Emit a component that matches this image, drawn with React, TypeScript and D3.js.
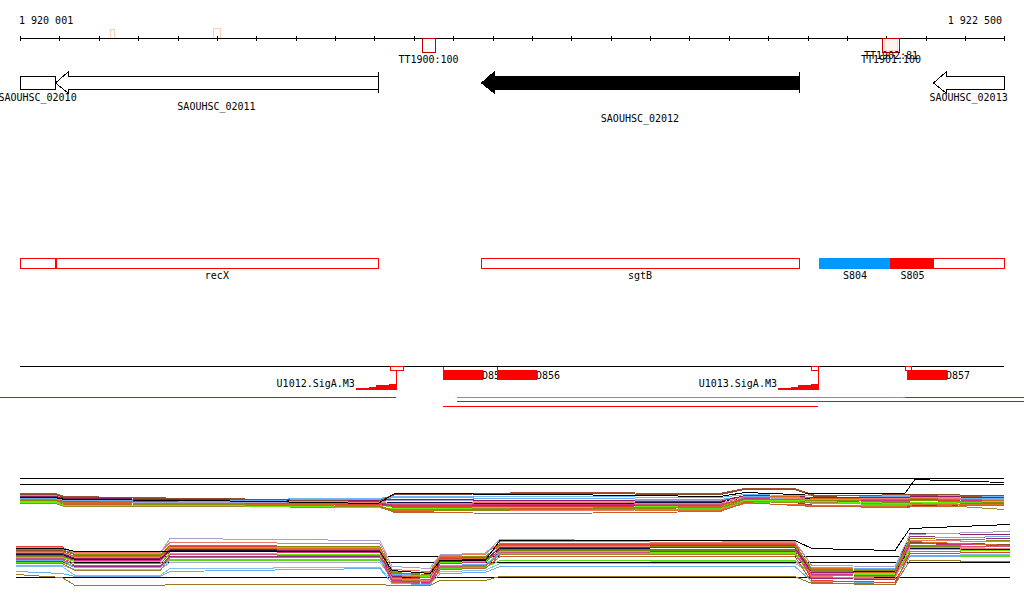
import React from "react";
import * as d3 from "d3";

// ---------- data ----------
const GENOME_START = 1920001;
const GENOME_END = 1922500;
const rulerLabels = ["1 920 001", "1 922 500"];

const genes = [
  { name: "SAOUHSC_02010", start: 1920001, end: 1920090, head: false, bar: false, fill: "#ffffff", row: 0 },
  { name: "SAOUHSC_02011", start: 1920090, end: 1920910, head: true, bar: true, fill: "#ffffff", row: 1 },
  { name: "SAOUHSC_02012", start: 1921172, end: 1921979, head: true, bar: true, fill: "#000000", row: 2 },
  { name: "SAOUHSC_02013", start: 1922320, end: 1922500, head: true, bar: false, fill: "#ffffff", row: 0 },
];

const terminators = [
  { name: "TT1900:100", start: 1921022, end: 1921055, inner: false, labelDy: 0 },
  { name: "TT1902:81", start: 1922192, end: 1922234, inner: true, labelDy: -4.5 },
  { name: "TT1901:100", start: 1922192, end: 1922234, inner: false, labelDy: 0 },
];
const faintMarks = [
  { start: 1920230, end: 1920242, top: 29 },
  { start: 1920492, end: 1920511, top: 28 },
];

const annotBoxes = [
  { name: "", start: 1920001, end: 1920090 },
  { name: "recX", start: 1920092, end: 1920910 },
  { name: "sgtB", start: 1921172, end: 1921979 },
];
const filledSegments = [
  { name: "S804", start: 1922030, end: 1922213, color: "#0099ff" },
  { name: "S805", start: 1922213, end: 1922322, color: "#ff0000" },
];
const s805Outline = { start: 1922213, end: 1922500 };

const promoters = [
  { name: "U1012.SigA.M3", boxStart: 1920941, boxEnd: 1920974, site: 1920956, motifStart: 1920854 },
  { name: "U1013.SigA.M3", boxStart: 1922010, boxEnd: 1922030, site: 1922028, motifStart: 1921926 },
];
const motifScores = [0.17, 0.33, 0.5, 0.67, 0.83, 1.0];

const dSites = [
  { name: "D855", start: 1921075, end: 1921177, tick: true, smallBox: false },
  { name: "D856", start: 1921212, end: 1921314, tick: true, smallBox: false },
  { name: "D857", start: 1922254, end: 1922355, tick: false, smallBox: true },
];
const d857Box = { start: 1922249, end: 1922264 };

const coverageLines = [
  { start: 1919950, end: 1920956, lane: 0, color: "#ff0000" },
  { start: 1921111, end: 1922249, lane: 0, color: "#22dd22" },
  { start: 1922249, end: 1922551, lane: 0, color: "#ff0000" },
  { start: 1921111, end: 1922551, lane: 1, color: "#ff0000" },
  { start: 1921075, end: 1922028, lane: 2, color: "#ff0000" },
];

// expression profiles, track 1
const track1Pos = [1920001, 1920090, 1920115, 1920458, 1920910, 1920953, 1921347, 1921779, 1921842, 1921969, 1922020, 1922248, 1922274, 1922500];
const track1Ref = [42, 36];
const track1Colors = ["#000000", "#8b4a2b", "#d2691e", "#8c8c00", "#66ee00", "#8b1a6b", "#66b0f0", "#f08070", "#cc3388", "#a8a0d0", "#101040", "#e04030", "#a08830", "#c8602a", "#d05080", "#55dd11", "#a0522d", "#e07030", "#7a8a10", "#9a2a7a", "#70b8f8", "#ee7766"];
const t1s01 = [23, 23, 21, 20, 17, 27, 26, 24, 28, 26, 27, 27, 41, 38];
const t1s02 = [26, 26, 23, 22, 19, 26, 27, 26, 31, 31, 24, 26, 26, 25];
const t1s03 = [21, 21, 18, 17, 15, 10, 12, 14, 23, 24, 22, 21, 22, 20];
const t1s04 = [20, 20, 17, 16, 14, 9, 11, 13, 21, 21, 20, 19, 20, 18];
const t1s05 = [18, 18, 15, 15, 13, 12, 13, 14, 20, 20, 19, 17, 18, 19];
const t1s06 = [24, 24, 22, 21, 20, 21, 20, 19, 25, 24, 23, 23, 24, 23];
const t1s07 = [22, 22, 20, 20, 21, 23, 22, 21, 24, 23, 23, 24, 23, 22];
const t1s08 = [25, 25, 22, 19, 18, 17, 18, 17, 24, 22, 21, 22, 23, 21];
const t1s09 = [23, 23, 20, 19, 18, 15, 16, 15, 22, 21, 20, 20, 21, 20];
const t1s10 = [19, 19, 17, 18, 19, 20, 19, 20, 23, 22, 21, 21, 22, 21];
const t1s11 = [24, 24, 21, 20, 19, 18, 17, 18, 23, 23, 22, 22, 22, 21];
const t1s12 = [21, 21, 19, 17, 16, 14, 14, 15, 21, 20, 19, 20, 20, 19];
const t1s13 = [17, 17, 14, 14, 13, 11, 12, 13, 19, 18, 18, 17, 17, 11];
const t1s14 = [20, 20, 16, 15, 14, 8, 7, 9, 18, 15, 14, 13, 14, 15];
const t1s15 = [22, 22, 19, 18, 17, 16, 17, 16, 22, 21, 20, 19, 20, 19];
const t1s16 = [20, 20, 18, 17, 15, 14, 14, 12, 18, 19, 17, 16, 17, 18];
const t1s17 = [27, 27, 24, 22, 20, 26, 28, 27, 32, 32, 25, 24, 25, 23];
const t1s18 = [19, 19, 16, 15, 13, 11, 11, 10, 17, 16, 15, 14, 16, 16];
const t1s19 = [22, 22, 20, 18, 16, 13, 13, 14, 20, 19, 18, 18, 18, 17];
const t1s20 = [21, 21, 18, 17, 16, 15, 15, 14, 20, 18, 15, 13, 15, 16];
const t1s21 = [23, 23, 21, 21, 22, 24, 24, 23, 26, 25, 25, 25, 25, 24];
const t1s22 = [18, 18, 15, 14, 13, 10, 10, 11, 17, 16, 15, 15, 16, 15];
const track1Series = [t1s01, t1s02, t1s03, t1s04, t1s05, t1s06, t1s07, t1s08, t1s09, t1s10, t1s11, t1s12, t1s13, t1s14, t1s15, t1s16, t1s17, t1s18, t1s19, t1s20, t1s21, t1s22];

// expression profiles, track 2
const track2Pos = [1919991, 1920108, 1920141, 1920357, 1920382, 1920915, 1920946, 1921042, 1921068, 1921182, 1921220, 1921969, 1922012, 1922223, 1922261, 1922515];
const track2Ref = [36, 30, 15];
const track2Colors = ["#000000", "#a8a0d0", "#8c8c00", "#d2691e", "#8b1a6b", "#cc3388", "#66ee00", "#f08070", "#e04030", "#66b0f0", "#101040", "#d05080", "#a08830", "#8b4a2b", "#66b0f0", "#9a7a20", "#7a8a10", "#c8602a", "#9a2a7a", "#55dd11", "#e07030", "#b0a8d8", "#80c0f0", "#ee7766"];
const t2s01 = [44, 44, 41, 41, 41, 41, 22, 19, 32, 32, 52, 52, 44, 42, 64, 68];
const t2s02 = [45, 45, 39, 39, 54, 52, 26, 24, 38, 39, 53, 51, 27, 26, 58, 61];
const t2s03 = [43, 43, 38, 38, 47, 46, 20, 18, 35, 36, 47, 46, 23, 22, 54, 52];
const t2s04 = [41, 41, 36, 36, 44, 43, 17, 15, 33, 34, 49, 49, 21, 20, 51, 47];
const t2s05 = [39, 39, 34, 34, 43, 42, 16, 15, 31, 32, 45, 45, 20, 20, 59, 58];
const t2s06 = [37, 37, 32, 32, 41, 40, 12, 10, 29, 30, 43, 43, 18, 17, 49, 47];
const t2s07 = [35, 35, 31, 31, 39, 38, 17, 16, 30, 31, 41, 40, 19, 18, 43, 42];
const t2s08 = [40, 40, 35, 35, 45, 45, 14, 12, 32, 32, 46, 45, 16, 14, 45, 44];
const t2s09 = [46, 46, 37, 37, 46, 45, 15, 13, 34, 35, 48, 48, 12, 10, 39, 40];
const t2s10 = [32, 32, 25, 25, 33, 33, 18, 17, 27, 28, 39, 39, 25, 24, 54, 56];
const t2s11 = [38, 38, 33, 33, 42, 42, 20, 18, 32, 33, 44, 43, 21, 21, 44, 43];
const t2s12 = [34, 34, 29, 29, 38, 37, 11, 9, 26, 27, 40, 40, 15, 14, 47, 46];
const t2s13 = [29, 29, 22, 22, 35, 35, 13, 11, 25, 26, 38, 38, 17, 16, 41, 40];
const t2s14 = [42, 42, 38, 38, 46, 46, 18, 16, 34, 35, 48, 47, 19, 18, 50, 48];
const t2s15 = [21, 19, 16, 16, 21, 24, 9, 8, 19, 20, 26, 26, 11, 10, 36, 37];
const t2s16 = [18, 15, 7, 7, 8, 8, 7, 7, 12, 12, 16, 16, 9, 8, 32, 31];
const t2s17 = [36, 36, 32, 32, 42, 41, 19, 17, 31, 32, 42, 42, 22, 21, 46, 46];
const t2s18 = [33, 33, 27, 27, 35, 35, 10, 8, 23, 24, 36, 36, 10, 8, 41, 40];
const t2s19 = [31, 31, 26, 26, 36, 36, 13, 12, 26, 27, 41, 41, 14, 13, 56, 54];
const t2s20 = [30, 30, 25, 25, 32, 32, 16, 15, 24, 25, 32, 32, 18, 17, 37, 36];
const t2s21 = [40, 40, 36, 36, 45, 44, 21, 20, 36, 36, 47, 47, 24, 23, 49, 48];
const t2s22 = [27, 27, 23, 23, 30, 30, 14, 13, 24, 25, 32, 31, 20, 19, 46, 44];
const t2s23 = [26, 26, 17, 17, 24, 25, 12, 11, 21, 22, 29, 29, 20, 19, 37, 38];
const t2s24 = [44, 44, 40, 40, 50, 49, 23, 21, 37, 38, 51, 50, 27, 26, 52, 51];
const track2Series = [t2s01, t2s02, t2s03, t2s04, t2s05, t2s06, t2s07, t2s08, t2s09, t2s10, t2s11, t2s12, t2s13, t2s14, t2s15, t2s16, t2s17, t2s18, t2s19, t2s20, t2s21, t2s22, t2s23, t2s24];

// ---------- chart ----------
const FONT = "'DejaVu Sans Mono', 'Liberation Mono', monospace";

export default function App() {
  const x = d3.scaleLinear().domain([GENOME_START, GENOME_END]).range([20, 1004]);
  const y1 = d3.scaleLinear().domain([0, 48]).range([520, 472]);
  const y2 = d3.scaleLinear().domain([0, 64]).range([592, 528]);
  const motifH = d3.scaleLinear().domain([0, 1]).range([0, 6]);

  const ticks = d3.range(GENOME_START, GENOME_END, 100).concat([GENOME_END]);

  const line1 = d3.line<number>().x((_, i) => x(track1Pos[i])).y((d) => y1(d) + 0.5);
  const line2 = d3.line<number>().x((_, i) => x(track2Pos[i])).y((d) => y2(d) + 0.5);

  const RULER_Y = 38.5;
  const GENE_TOP = 76.5, GENE_BOT = 89.5, HEAD_TOP = 72, HEAD_BOT = 93;
  const geneLabelY = [101, 110, 122];

  const arrowPath = (s: number, e: number, head: boolean) => {
    const x0 = Math.round(x(s)) + 0.5, x1 = Math.round(x(e)) + 0.5;
    if (!head) return `M${x0},${GENE_TOP}H${x1}V${GENE_BOT}H${x0}Z`;
    const hb = x0 + 12.5;
    const mid = (GENE_TOP + GENE_BOT) / 2;
    return `M${x0},${mid}L${hb},${HEAD_TOP}V${GENE_TOP}H${x1}V${GENE_BOT}H${hb}V${HEAD_BOT}Z`;
  };

  const ROW2_TOP = 258.5, ROW2_BOT = 268.5;
  const ROW3_Y = 366.5;

  const stairPath = (p: typeof promoters[number]) => {
    const xs = x(p.motifStart), xe = x(p.site);
    const w = (xe - xs) / motifScores.length;
    const base = 389.5;
    let d = `M${xs},${base}`;
    motifScores.forEach((sc, i) => {
      const h = motifH(sc);
      d += `V${base - h}H${xs + w * (i + 1)}`;
    });
    d += `V${base}Z`;
    return d;
  };

  return (
    <div style={{ position: "absolute", left: 0, top: 0 }}>
      <svg width={1024} height={611} style={{ display: "block", background: "#fff" }} fontFamily={FONT} fontSize={10}>
        {/* ruler */}
        <g shapeRendering="crispEdges">
          {faintMarks.map((m, i) => (
            <rect key={i} x={x(m.start)} y={m.top} width={x(m.end) - x(m.start)} height={RULER_Y - m.top} fill="none" stroke="#ffcdb8" />
          ))}
          <line x1={x(GENOME_START)} x2={x(GENOME_END)} y1={RULER_Y} y2={RULER_Y} stroke="#000" />
          {ticks.map((t) => (
            <line key={t} x1={Math.round(x(t)) + 0.5} x2={Math.round(x(t)) + 0.5} y1={35.5} y2={41} stroke="#000" />
          ))}
          {terminators.map((t, i) => (
            t.inner ? (
              <g key={i}>
                <rect x={x(t.start)} y={RULER_Y} width={x(t.end) - x(t.start)} height={14} fill="none" stroke="#c00000" />
                <rect x={x(t.start) + 1.5} y={RULER_Y} width={x(t.end) - x(t.start) - 3} height={11.5} fill="#fff4f0" stroke="#ffd8cc" />
              </g>
            ) : (
              <rect key={i} x={x(t.start)} y={RULER_Y} width={x(t.end) - x(t.start)} height={14} fill="none" stroke="#c00000" />
            )
          ))}
        </g>
        <text x={19} y={24}>{rulerLabels[0]}</text>
        <text x={1002} y={24} textAnchor="end">{rulerLabels[1]}</text>
        {terminators.map((t, i) => (
          <text key={i} x={(x(t.start) + x(t.end)) / 2} y={63 + t.labelDy} textAnchor="middle">{t.name}</text>
        ))}

        {/* genes */}
        <g shapeRendering="crispEdges">
          {genes.map((g) => (
            <g key={g.name}>
              <path d={arrowPath(g.start, g.end, g.head)} fill={g.fill} stroke="#000" />
              {g.bar && (
                <line x1={Math.round(x(g.end)) + 0.5} x2={Math.round(x(g.end)) + 0.5} y1={HEAD_TOP} y2={HEAD_BOT} stroke="#000" />
              )}
            </g>
          ))}
        </g>
        {genes.map((g) => (
          <text key={g.name} x={(x(g.start) + x(g.end)) / 2} y={geneLabelY[g.row]} textAnchor="middle">{g.name}</text>
        ))}

        {/* annotation row */}
        <g shapeRendering="crispEdges">
          {filledSegments.map((s) => (
            <rect key={s.name} x={x(s.start)} y={ROW2_TOP - 0.5} width={x(s.end) - x(s.start)} height={ROW2_BOT - ROW2_TOP + 1} fill={s.color} />
          ))}
          <rect x={x(s805Outline.start)} y={ROW2_TOP} width={x(s805Outline.end) - x(s805Outline.start)} height={ROW2_BOT - ROW2_TOP} fill="none" stroke="#ff0000" />
          {annotBoxes.map((b, i) => (
            <rect key={i} x={Math.round(x(b.start)) + 0.5} y={ROW2_TOP} width={Math.round(x(b.end) - x(b.start))} height={ROW2_BOT - ROW2_TOP} fill="none" stroke="#ff0000" />
          ))}
        </g>
        {annotBoxes.filter((b) => b.name).map((b) => (
          <text key={b.name} x={(x(b.start) + x(b.end)) / 2} y={279} textAnchor="middle">{b.name}</text>
        ))}
        {filledSegments.map((s) => (
          <text key={s.name} x={(x(s.start) + x(s.end)) / 2} y={279} textAnchor="middle">{s.name}</text>
        ))}

        {/* regulatory row */}
        <g shapeRendering="crispEdges">
          <line x1={x(GENOME_START)} x2={x(GENOME_END)} y1={ROW3_Y} y2={ROW3_Y} stroke="#000" />
          {promoters.map((p) => (
            <g key={p.name}>
              <path d={stairPath(p)} fill="#ff0000" />
              <rect x={x(p.boxStart)} y={ROW3_Y} width={x(p.boxEnd) - x(p.boxStart)} height={4} fill="none" stroke="#ff0000" />
              <line x1={Math.round(x(p.site)) + 0.5} x2={Math.round(x(p.site)) + 0.5} y1={ROW3_Y + 4} y2={390} stroke="#ff0000" />
            </g>
          ))}
        </g>
        {promoters.map((p) => (
          <text key={p.name} x={x(p.motifStart) - 1} y={387} textAnchor="end">{p.name}</text>
        ))}
        {dSites.map((s) => (
          <g key={s.name}>
            <g shapeRendering="crispEdges">
              {s.tick && (
                <line x1={Math.round(x(s.start)) + 0.5} x2={Math.round(x(s.start)) + 0.5} y1={ROW3_Y} y2={371} stroke="#ff0000" />
              )}
              {s.smallBox && (
                <rect x={x(d857Box.start)} y={ROW3_Y} width={x(d857Box.end) - x(d857Box.start)} height={4} fill="none" stroke="#ff0000" />
              )}
              <rect x={x(s.start)} y={370} width={x(s.end) - x(s.start)} height={9.5} fill="#ff0000" />
            </g>
            <text x={x(s.end) - 1} y={379}>{s.name}</text>
          </g>
        ))}

        {/* coverage lines */}
        <g shapeRendering="crispEdges">
          {coverageLines.map((c, i) => (
            <line key={i} x1={x(c.start)} x2={x(c.end)} y1={397.5 + c.lane * 4.3} y2={397.5 + c.lane * 4.3} stroke={c.color} />
          ))}
        </g>

        {/* expression track 1 */}
        <g fill="none" strokeWidth={1} shapeRendering="crispEdges">
          {track1Ref.map((v, i) => (
            <line key={i} x1={x(GENOME_START)} x2={x(GENOME_END)} y1={y1(v) + 0.5} y2={y1(v) + 0.5} stroke="#000" />
          ))}
          {track1Series.map((s, i) => ({ s, i })).reverse().map(({ s, i }) => (
            <path key={i} d={line1(s) || ""} stroke={track1Colors[i]} />
          ))}
        </g>

        {/* expression track 2 */}
        <g fill="none" strokeWidth={1} shapeRendering="crispEdges">
          {track2Ref.map((v, i) => (
            <line key={i} x1={x(track2Pos[0])} x2={x(track2Pos[track2Pos.length - 1])} y1={y2(v) + 0.5} y2={y2(v) + 0.5} stroke="#000" />
          ))}
          {track2Series.map((s, i) => ({ s, i })).reverse().map(({ s, i }) => (
            <path key={i} d={line2(s) || ""} stroke={track2Colors[i]} />
          ))}
        </g>
      </svg>
    </div>
  );
}
